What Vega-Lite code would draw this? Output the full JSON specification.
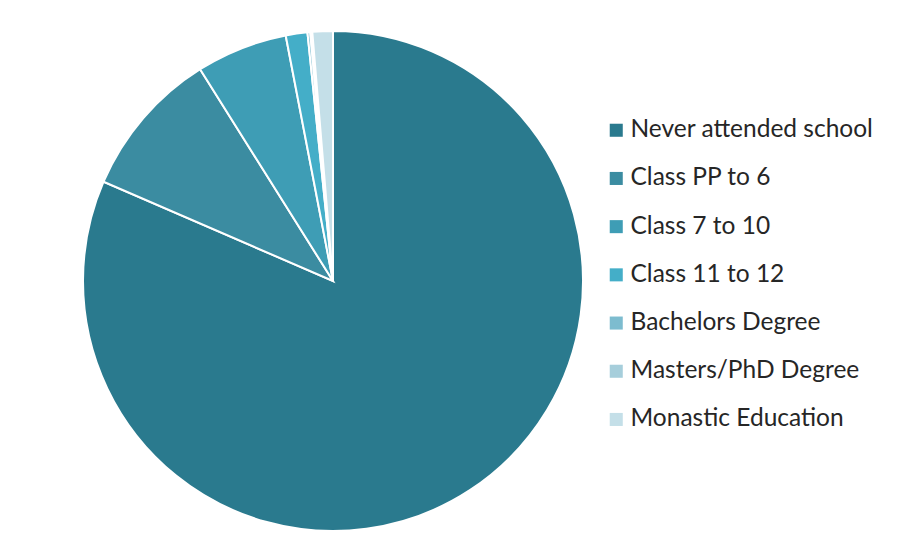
{
  "$schema": "https://vega.github.io/schema/vega-lite/v6.json",
  "width": 500,
  "height": 500,
  "autosize": {"type": "none"},
  "padding": {"left": 83, "top": 31, "right": 319, "bottom": 11},
  "background": "white",
  "config": {"view": {"stroke": null}},
  "data": {
    "values": [
      {"category": "Never attended school", "value": 81.5, "order": 1},
      {"category": "Class PP to 6", "value": 9.58, "order": 2},
      {"category": "Class 7 to 10", "value": 5.89, "order": 3},
      {"category": "Class 11 to 12", "value": 1.40, "order": 4},
      {"category": " Bachelors Degree", "value": 0.18, "order": 5},
      {"category": "Masters/PhD Degree", "value": 0.13, "order": 6},
      {"category": "Monastic Education", "value": 1.32, "order": 7}
    ]
  },
  "mark": {"type": "arc", "outerRadius": 250, "stroke": "white", "strokeWidth": 2},
  "encoding": {
    "theta": {"field": "value", "type": "quantitative", "stack": true},
    "order": {"field": "order", "type": "quantitative"},
    "color": {
      "field": "category",
      "type": "nominal",
      "sort": ["Never attended school", "Class PP to 6", "Class 7 to 10", "Class 11 to 12", " Bachelors Degree", "Masters/PhD Degree", "Monastic Education"],
      "scale": {
        "domain": ["Never attended school", "Class PP to 6", "Class 7 to 10", "Class 11 to 12", " Bachelors Degree", "Masters/PhD Degree", "Monastic Education"],
        "range": ["#2a7a8e", "#3b8ca1", "#3e9db5", "#44aec8", "#7dbccf", "#a6cedb", "#c4dfe8"]
      },
      "legend": {
        "title": null,
        "orient": "none",
        "legendX": 521,
        "legendY": 87,
        "symbolType": "square",
        "symbolSize": 170,
        "symbolStrokeWidth": 0,
        "labelFont": "Lato",
        "labelFontSize": 24.5,
        "labelColor": "#262626",
        "labelOffset": 2,
        "rowPadding": 23.2,
        "labelLimit": 400
      }
    }
  }
}
